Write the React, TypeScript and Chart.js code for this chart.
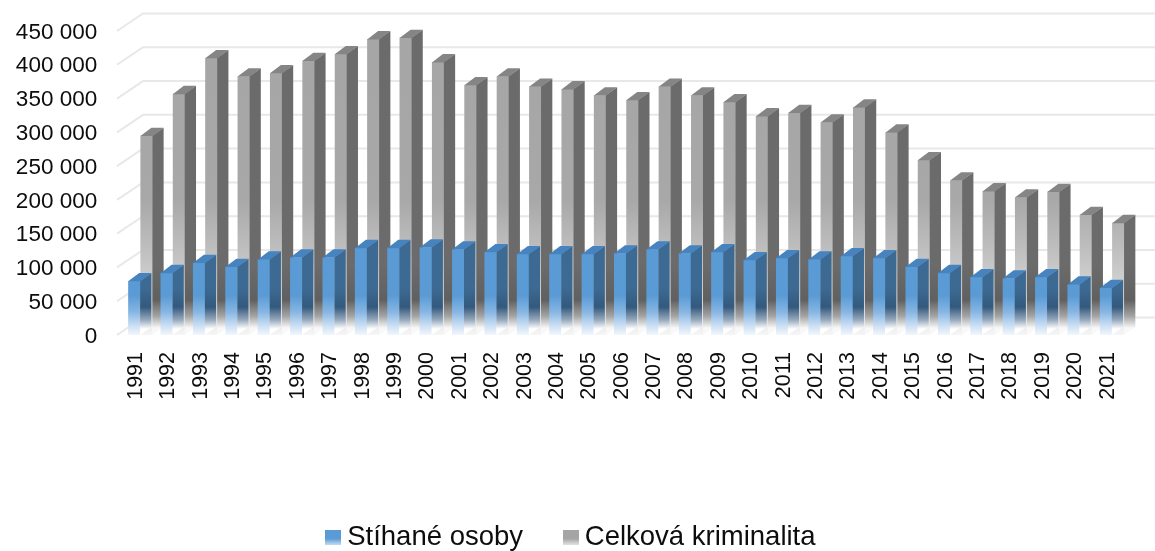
import React, { useEffect, useRef } from "react";
import { Chart, registerables } from "chart.js";

Chart.register(...registerables);

// ---- data ----
const years = [
  "1991", "1992", "1993", "1994", "1995", "1996", "1997", "1998", "1999", "2000",
  "2001", "2002", "2003", "2004", "2005", "2006", "2007", "2008", "2009", "2010",
  "2011", "2012", "2013", "2014", "2015", "2016", "2017", "2018", "2019", "2020", "2021",
];
const stihaneOsoby = [
  80000, 92000, 107000, 101000, 112000, 115000, 115000, 129000, 129000, 130000,
  127000, 123000, 120000, 120000, 120000, 121000, 127000, 121000, 123000, 111000,
  114000, 112000, 117000, 114000, 101000, 92000, 86000, 84000, 86000, 75000, 70000,
];
const celkovaKriminalita = [
  295000, 357000, 410000, 383000, 388000, 406000, 416000, 438000, 440000, 404000,
  370000, 383000, 368000, 364000, 355000, 348000, 368000, 355000, 345000, 324000,
  329000, 315000, 337000, 300000, 259000, 229000, 213000, 204000, 212000, 178000, 166000,
];
const seriesLabels = ["Stíhané osoby", "Celková kriminalita"];
const yTickValues = [0, 50000, 100000, 150000, 200000, 250000, 300000, 350000, 400000, 450000];

// ---- styling ----
const W = 1155;
const H = 561;
const FONT = '"Liberation Sans", Arial, sans-serif';
const DX = 11;
const DY = -8;
const LEGEND_PAD = 48;
const LEGEND_FONT = 27.5;
const AREA_BOTTOM = 335;

type Stop = [number, string];
const blueFront: Stop[] = [[0, "#5b9bd5"], [296, "#5b9bd5"], [312, "#86b6e3"], [326, "#cde0f4"], [336, "#f6f9fd"]];
const greyFront: Stop[] = [[0, "#a5a5a5"], [200, "#a8a8a8"], [250, "#bfbfbf"], [290, "#d3d3d3"], [320, "#e6e6e6"], [336, "#f7f7f7"]];
const blueSide: Stop[] = [[0, "#3d6a93"], [288, "#3d6a93"], [307, "#33597d"], [320, "#98aabd"], [329, "#ffffff"]];
const greySide: Stop[] = [[0, "#6b6b6b"], [265, "#6b6b6b"], [300, "#606060"], [316, "#a3a3a3"], [328, "#f8f8f8"]];

function grad(ctx: CanvasRenderingContext2D, stops: Stop[]) {
  const g = ctx.createLinearGradient(0, 0, 0, H);
  stops.forEach(([y, c]) => g.addColorStop(Math.min(1, Math.max(0, y / H)), c));
  return g;
}

function fmt(v: number) {
  return String(v).replace(/\B(?=(\d{3})+(?!\d))/g, " ");
}

function legendSwatch(a: string, b: string) {
  const c = document.createElement("canvas");
  c.width = 16;
  c.height = 15;
  const x = c.getContext("2d") as CanvasRenderingContext2D;
  const g = x.createLinearGradient(0, 0, 0, 15);
  g.addColorStop(0, a);
  g.addColorStop(0.6, a);
  g.addColorStop(1, b);
  x.fillStyle = g;
  x.fillRect(0, 0, 16, 15);
  return c;
}

const depthPlugin = {
  id: "depth3d",
  beforeDatasetsDraw(chart: any) {
    const ctx = chart.ctx as CanvasRenderingContext2D;
    const ys = chart.scales.y;
    ctx.save();
    ctx.strokeStyle = "#e8e8e8";
    ctx.lineWidth = 2;
    yTickValues.forEach((v) => {
      const yf = ys.getPixelForValue(v);
      ctx.beginPath();
      ctx.moveTo(117, yf);
      ctx.lineTo(143, yf - 17.5);
      ctx.lineTo(W, yf - 17.5);
      ctx.stroke();
    });
    ctx.restore();
  },
  afterDatasetDraw(chart: any, args: any) {
    const ctx = chart.ctx as CanvasRenderingContext2D;
    const i = args.index;
    const side = grad(ctx, i === 0 ? blueSide : greySide);
    const topColor = i === 0 ? "#4683bf" : "#858585";
    ctx.save();
    args.meta.data.forEach((el: any) => {
      const { x, y, base, width } = el.getProps(["x", "y", "base", "width"], true);
      const l = x - width / 2;
      const r = x + width / 2;
      ctx.fillStyle = side;
      ctx.beginPath();
      ctx.moveTo(r - 0.3, y);
      ctx.lineTo(r + DX, y + DY);
      ctx.lineTo(r + DX, base + DY);
      ctx.lineTo(r - 0.3, base);
      ctx.closePath();
      ctx.fill();
      ctx.fillStyle = topColor;
      ctx.beginPath();
      ctx.moveTo(l, y + 0.3);
      ctx.lineTo(l + DX, y + DY);
      ctx.lineTo(r + DX, y + DY);
      ctx.lineTo(r, y + 0.3);
      ctx.closePath();
      ctx.fill();
    });
    ctx.restore();
  },
};

export default function App() {
  const ref = useRef<HTMLCanvasElement | null>(null);

  useEffect(() => {
    if (!ref.current) return;
    const legendHeight = LEGEND_FONT + LEGEND_PAD + 10;
    const swatches = [legendSwatch("#5b9bd5", "#c2dbf2"), legendSwatch("#a5a5a5", "#e2e2e2")];
    const chart = new Chart(ref.current, {
      type: "bar",
      data: {
        labels: years,
        datasets: [
          {
            label: seriesLabels[0],
            data: stihaneOsoby,
            backgroundColor: (c: any) => grad(c.chart.ctx, blueFront),
            borderWidth: 0,
            categoryPercentage: 0.756,
            barPercentage: 1,
          },
          {
            label: seriesLabels[1],
            data: celkovaKriminalita,
            backgroundColor: (c: any) => grad(c.chart.ctx, greyFront),
            borderWidth: 0,
            categoryPercentage: 0.756,
            barPercentage: 1,
          },
        ],
      },
      options: {
        responsive: false,
        devicePixelRatio: 1,
        animation: false,
        layout: { padding: { top: 31, right: 6, left: 0, bottom: 0 } },
        scales: {
          x: {
            grid: { display: false, drawTicks: false },
            border: { display: false },
            ticks: {
              autoSkip: false,
              minRotation: 90,
              maxRotation: 90,
              padding: 17,
              labelOffset: -4.5,
              color: "#0d0d0d",
              font: { family: FONT, size: 21.5 },
            },
            afterFit: (s: any) => {
              s.height = H - legendHeight - AREA_BOTTOM;
            },
          },
          y: {
            min: 0,
            max: 450000,
            grid: { display: false, drawTicks: true, tickLength: 27, color: "rgba(0,0,0,0)" },
            border: { display: false },
            ticks: {
              stepSize: 50000,
              padding: 0,
              labelOffset: 1.5,
              color: "#0d0d0d",
              font: { family: FONT, size: 22.5 },
              callback: (v: any) => fmt(Number(v)),
            },
            afterFit: (s: any) => {
              s.width = 124.2;
            },
          },
        },
        plugins: {
          tooltip: { enabled: false },
          legend: {
            position: "bottom",
            labels: {
              usePointStyle: true,
              pointStyleWidth: 0.01,
              boxWidth: 16,
              boxHeight: 15,
              padding: LEGEND_PAD,
              color: "#0d0d0d",
              font: { family: FONT, size: LEGEND_FONT },
              generateLabels: () =>
                seriesLabels.map((t, i) => ({
                  text: t,
                  fillStyle: i === 0 ? "#5b9bd5" : "#a5a5a5",
                  strokeStyle: "rgba(0,0,0,0)",
                  lineWidth: 0,
                  pointStyle: swatches[i],
                  hidden: false,
                  datasetIndex: i,
                  fontColor: "#0d0d0d",
                })),
            },
          },
        },
      },
      plugins: [depthPlugin],
    } as any);
    return () => chart.destroy();
  }, []);

  return (
    <div
      style={{
        position: "fixed",
        left: 0,
        top: 0,
        width: W,
        height: 551,
        overflow: "hidden",
        background: "#ffffff",
      }}
    >
      <canvas ref={ref} width={W} height={H} style={{ display: "block", width: W, height: H }} />
    </div>
  );
}
